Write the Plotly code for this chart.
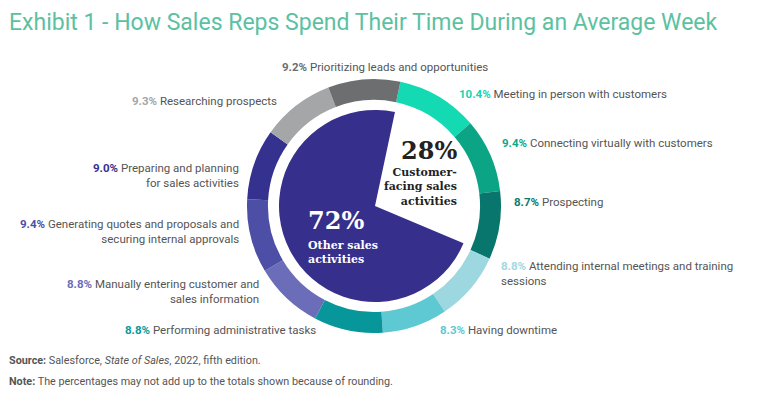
import plotly.graph_objects as go

# ---- data ----
activities = [
    "Meeting in person with customers",
    "Connecting virtually with customers",
    "Prospecting",
    "Attending internal meetings and training<br>sessions",
    "Having downtime",
    "Performing administrative tasks",
    "Manually entering customer and<br>sales information",
    "Generating quotes and proposals and<br>securing internal approvals",
    "Preparing and planning<br>for sales activities",
    "Researching prospects",
    "Prioritizing leads and opportunities",
]
shares = [10.4, 9.4, 8.7, 8.8, 8.3, 8.8, 8.8, 9.4, 9.0, 9.3, 9.2]
ring_colors = ["#14dab4", "#0ba585", "#08766c", "#9dd8e0", "#5ec8d3", "#07979b",
               "#6b6db8", "#4d4fa6", "#35318f", "#a5a6a8", "#6d6e70"]
pct_colors = ["#18d3b0", "#0ea888", "#0b7a6e", "#9fd9e2", "#5ec8d3", "#07979b",
              "#6b6db8", "#4c4fa6", "#35318f", "#a5a6a8", "#6d6e70"]

groups = ["Customer-facing sales activities", "Other sales activities"]
group_values = [28, 72]
group_colors = ["#ffffff", "#372f8c"]

title = "Exhibit 1 - How Sales Reps Spend Their Time During an Average Week"

# page body has an 8px margin: figure is drawn at (8, 8) inside the window
OFF = 8
W, H = 768 - OFF, 399 - OFF

def px(x):
    return (x - OFF) / W

def py(y):
    return 1 - (y - OFF) / H

fig = go.Figure()

# outer ring
cx, cy, r_out = 374, 206, 127
fig.add_trace(go.Pie(
    labels=[a.replace("<br>", " ") for a in activities], values=shares,
    marker=dict(colors=ring_colors, line=dict(width=0)),
    hole=0.835, sort=False, direction="clockwise", rotation=12,
    textinfo="none", hoverinfo="label+value",
    domain=dict(x=[px(cx - r_out), px(cx + r_out)], y=[py(cy + r_out), py(cy - r_out)]),
    showlegend=False,
))

# inner pie
icx, icy, r_in = 375, 206, 96
fig.add_trace(go.Pie(
    labels=groups, values=group_values,
    marker=dict(colors=group_colors, line=dict(width=0)),
    sort=False, direction="clockwise", rotation=12,
    textinfo="none", hoverinfo="label+value",
    domain=dict(x=[px(icx - r_in), px(icx + r_in)], y=[py(icy + r_in), py(icy - r_in)]),
    showlegend=False,
))

# label placements (pixel coords in window): x, y (first line centre), anchor
placements = [
    (457, 94, "left"),
    (500, 143, "left"),
    (512, 202, "left"),
    (499, 266, "left"),
    (438, 330, "left"),
    (318, 330, "right"),
    (261, 284, "right"),
    (241, 224, "right"),
    (241, 168, "right"),
    (279, 101, "right"),
    (385, 67, "center"),
]

LABEL_FONT = "Roboto"
for name, val, col, (x, y, anc) in zip(activities, shares, pct_colors, placements):
    text = f"<span style='color:{col}'><b>{val:.1f}%</b></span> {name}"
    fig.add_annotation(
        x=px(x), y=py(y - 9), xref="paper", yref="paper",
        text=text, showarrow=False, xanchor=anc, yanchor="top",
        align=anc, font=dict(family=LABEL_FONT, size=11.5, color="#555555"),
    )

# centre texts
SERIF = "DejaVu Serif"
fig.add_annotation(x=px(459), y=py(150), xref="paper", yref="paper",
                   text="<b>28%</b>", showarrow=False, xanchor="right", yanchor="middle",
                   font=dict(family=SERIF, size=24, color="#222222"))
fig.add_annotation(x=px(459), y=py(164), xref="paper", yref="paper",
                   text="<b>Customer-<br>facing sales<br>activities</b>", showarrow=False,
                   xanchor="right", yanchor="top", align="right",
                   font=dict(family=SERIF, size=11, color="#222222"))
fig.add_annotation(x=px(306), y=py(220), xref="paper", yref="paper",
                   text="<b>72%</b>", showarrow=False, xanchor="left", yanchor="middle",
                   font=dict(family=SERIF, size=24, color="#ffffff"))
fig.add_annotation(x=px(306), y=py(237), xref="paper", yref="paper",
                   text="<b>Other sales<br>activities</b>", showarrow=False,
                   xanchor="left", yanchor="top", align="left",
                   font=dict(family=SERIF, size=11, color="#ffffff"))

# title
fig.add_annotation(x=px(7), y=py(23), xref="paper", yref="paper",
                   text=title, showarrow=False, xanchor="left", yanchor="middle",
                   font=dict(family="Roboto", size=23, color="#5cc1a1"))

# footer
fig.add_annotation(x=px(7), y=py(360), xref="paper", yref="paper",
                   text="<b>Source:</b> Salesforce, <i>State of Sales</i>, 2022, fifth edition.",
                   showarrow=False, xanchor="left", yanchor="middle",
                   font=dict(family=LABEL_FONT, size=10.8, color="#555555"))
fig.add_annotation(x=px(7), y=py(381), xref="paper", yref="paper",
                   text="<b>Note:</b> The percentages may not add up to the totals shown because of rounding.",
                   showarrow=False, xanchor="left", yanchor="middle",
                   font=dict(family=LABEL_FONT, size=10.8, color="#555555"))

fig.update_layout(
    width=W, height=H,
    margin=dict(l=0, r=0, t=0, b=0),
    paper_bgcolor="white", plot_bgcolor="white",
)

fig.write_html("out.html")
